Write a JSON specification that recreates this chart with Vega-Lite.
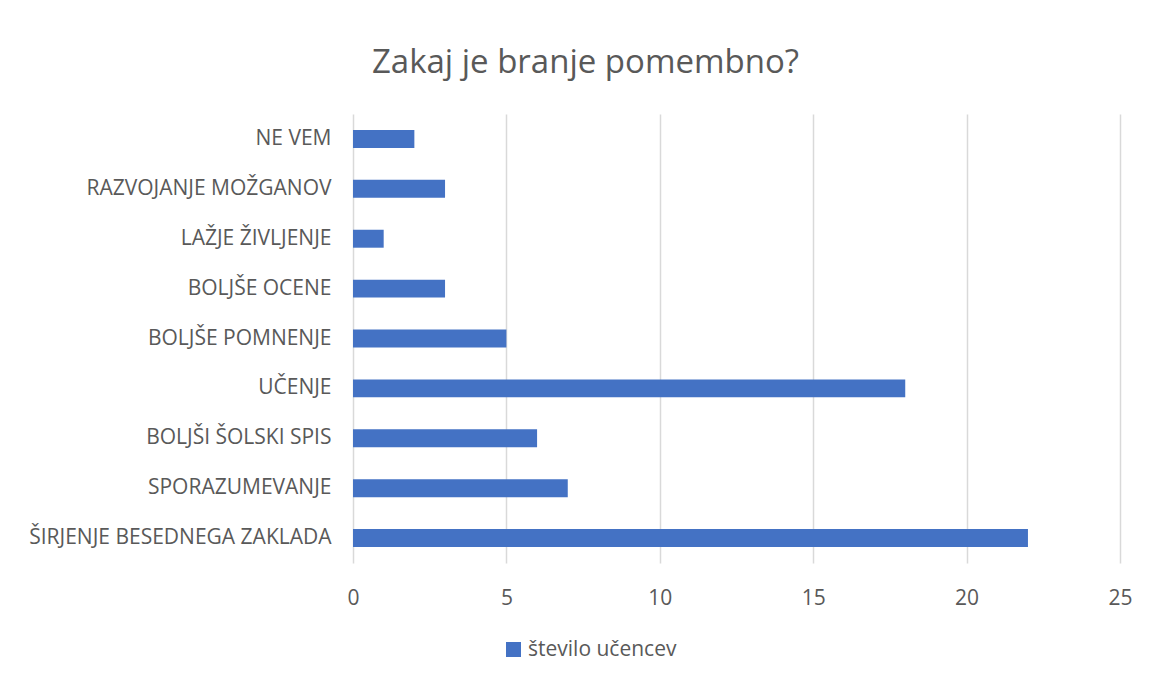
{
  "$schema": "https://vega.github.io/schema/vega-lite/v6.json",
  "width": 767,
  "height": 449,
  "autosize": "none",
  "padding": {"left": 353, "top": 114, "right": 29, "bottom": 117},
  "background": "white",
  "config": {"view": {"stroke": null}, "font": "Open Sans"},
  "title": {
    "text": "Zakaj je branje pomembno?",
    "fontSize": 33,
    "fontWeight": "normal",
    "color": "#595959",
    "anchor": "middle",
    "dx": -151,
    "offset": 34
  },
  "data": {
    "values": [
      {"razlog": "NE VEM", "stevilo": 2},
      {"razlog": "RAZVOJANJE MOŽGANOV", "stevilo": 3},
      {"razlog": "LAŽJE ŽIVLJENJE", "stevilo": 1},
      {"razlog": "BOLJŠE OCENE", "stevilo": 3},
      {"razlog": "BOLJŠE POMNENJE", "stevilo": 5},
      {"razlog": "UČENJE", "stevilo": 18},
      {"razlog": "BOLJŠI ŠOLSKI SPIS", "stevilo": 6},
      {"razlog": "SPORAZUMEVANJE", "stevilo": 7},
      {"razlog": "ŠIRJENJE BESEDNEGA ZAKLADA", "stevilo": 22}
    ]
  },
  "mark": {"type": "bar"},
  "encoding": {
    "y": {
      "field": "razlog",
      "type": "nominal",
      "sort": null,
      "scale": {"paddingInner": 0.64, "paddingOuter": 0.32},
      "axis": {
        "title": null,
        "domain": false,
        "ticks": false,
        "labelFontSize": 21,
        "labelColor": "#595959",
        "labelPadding": 22,
        "labelLimit": 400
      }
    },
    "x": {
      "field": "stevilo",
      "type": "quantitative",
      "scale": {"domain": [0, 25], "nice": false},
      "axis": {
        "title": null,
        "values": [0, 5, 10, 15, 20, 25],
        "grid": true,
        "gridColor": "#d9d9d9",
        "gridWidth": 1.5,
        "domain": false,
        "ticks": false,
        "labelFlush": false,
        "labelFontSize": 21,
        "labelColor": "#595959",
        "labelPadding": 24
      }
    },
    "color": {
      "datum": "število učencev",
      "type": "nominal",
      "scale": {"range": ["#4472C4"]},
      "legend": {
        "title": null,
        "orient": "none",
        "legendX": 150,
        "legendY": 525,
        "padding": 0,
        "symbolType": "square",
        "symbolSize": 225,
        "symbolStrokeWidth": 0,
        "labelFontSize": 21,
        "labelColor": "#595959",
        "labelOffset": 4
      }
    }
  }
}
